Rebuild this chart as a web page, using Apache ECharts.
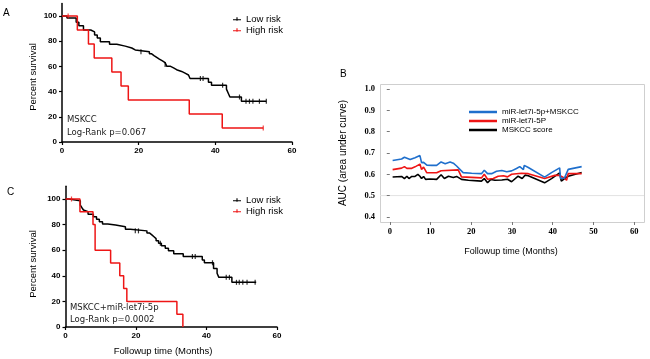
<!DOCTYPE html>
<html><head><meta charset="utf-8">
<script src="https://cdn.jsdelivr.net/npm/echarts@6/dist/echarts.min.js"></script>
<style>html,body{margin:0;padding:0;background:#fff}
.ch{position:absolute;left:0;top:0;width:650px;height:359px}</style>
</head><body><div id="km" class="ch"></div><div id="auc" class="ch"></div>
<script>
// ---------- tick labels ----------
const kmYTicks = [0, 20, 40, 60, 80, 100];
const kmXTicks = [0, 20, 40, 60];
const bYTicks = [0.4, 0.5, 0.6, 0.7, 0.8, 0.9, 1.0];
const bXTicks = [0, 10, 20, 30, 40, 50, 60];
const bRefLine = 0.5;

// ---------- Panel A (MSKCC) ----------
const aLowT = [0,1.3,3.7,4.4,5.6,7.5,8.5,9.2,10,12.4,14.3,16.5,18.2,19.1,22.8,23.4,24,24.7,25.4,26.2,26.9,27.3,28.2,29.1,29.9,31.2,32.1,33,33.4,38.2,39,42.9,43.4,43.8,46.8,53.3];
const aLowS = [100,98.4,95,92.3,88.9,87.4,85,82.5,79.5,77.6,76.1,74.6,73.1,71.6,70,68.6,67.2,65.8,64.4,63,61.6,60.2,58.8,57.4,56,54.6,53.2,51.8,50.4,47.5,45,42,38.5,35.7,32.3,32.3];
const aLowCensT = [20.6,26.9,36.1,36.8,41.9,46.3,48,48.9,49.8,51.5,53.3];
const aLowCensS = [71.6,61.6,50.4,50.4,45,35.7,32.3,32.3,32.3,32.3,32.3];
const aHighT = [0,4.0,6.9,8.4,13.0,15.4,17.3,33.2,41.8,52.5];
const aHighS = [100,88.9,77.8,66.7,55.6,44.4,33.3,22.2,11.1,11.1];
const aHighCensT = [1.6,52.5];
const aHighCensS = [100,11.1];

// ---------- Panel C (MSKCC+miR-let7i-5p) ----------
const cLowT = [0,0.9,4.2,4.7,5.1,5.6,6.4,7.9,8.8,9.6,10.5,12,14.2,17,18.4,23.1,23.8,24.5,25.1,25.7,26.4,27.2,28.3,29.2,30.7,33.4,38.8,39.4,42,43,43.5,47.2,54.1];
const cLowS = [100,98.7,95.3,93,91.4,90.1,88,86.2,84.1,82.3,80.5,79.6,78.3,76.4,75.1,73.5,72,70.5,69,67.4,65.5,63.5,61.5,59.6,57.2,55,52.3,50.2,45.8,42,38.8,34.9,34.9];
const cLowCensT = [19.8,20.7,26.9,36,36.8,41.7,45.6,46.5,48.5,49.3,50.3,51.5,53.8];
const cLowCensS = [75.1,75.1,65.5,55,55,50.2,38.8,38.8,34.9,34.9,34.9,34.9,34.9];
const cHighT = [0,4.1,7.8,8.4,12.8,15.4,16.5,17.4,31.6,33.3];
const cHighS = [100,90,80,60,50,40,30,20,10,0];
const cHighCensT = [1.7];
const cHighCensS = [100];

// ---------- Panel B (time-dependent AUC) ----------
const bNames = ['miR-let7i-5p+MSKCC', 'miR-let7i-5P', 'MSKCC score'];
const blueT = [0.7,2.9,3.6,3.9,5,6.2,7.4,7.8,8.3,9.1,10.3,11.5,12.6,13.6,14.8,15.6,16.4,18,20.1,22.5,23.2,24,25,26.2,27.5,28.7,29.9,31.1,31.9,32.8,33,34,38,39.7,41.7,41.9,42.9,43.8,47.1];
const blueV = [0.665,0.672,0.68,0.671,0.669,0.678,0.688,0.655,0.656,0.643,0.642,0.642,0.658,0.65,0.658,0.652,0.639,0.608,0.605,0.603,0.619,0.603,0.603,0.614,0.618,0.612,0.616,0.627,0.636,0.622,0.642,0.632,0.587,0.608,0.63,0.58,0.583,0.623,0.636];
const redT = [0.7,2.9,3.6,4.2,5.4,6.2,7.4,7.8,8.3,9.1,11.5,12.6,16.8,17.6,22.5,23.2,24,25.4,26.6,27.9,28.9,29.9,32.3,34,38,40.5,41.7,42.6,43.4,43.8,47.1];
const redV = [0.622,0.629,0.636,0.628,0.628,0.635,0.648,0.622,0.634,0.607,0.607,0.617,0.621,0.588,0.583,0.6,0.577,0.58,0.591,0.593,0.588,0.6,0.605,0.603,0.58,0.595,0.595,0.585,0.572,0.604,0.603];
const blackT = [0.7,2.9,3.6,4.2,4.7,5.4,6.2,6.9,7.4,7.8,8.3,8.8,9.9,11.5,12.6,13.4,14.4,15.6,16.4,17.6,19.3,22.5,23.2,24,24.8,25.8,27.5,28.9,29.9,31.5,32.5,33.2,34,38,39.7,41.7,42.1,42.9,43.8,47.1];
const blackV = [0.587,0.59,0.58,0.591,0.58,0.59,0.59,0.6,0.591,0.58,0.59,0.576,0.578,0.576,0.598,0.58,0.591,0.585,0.59,0.576,0.572,0.568,0.58,0.56,0.576,0.572,0.573,0.577,0.565,0.591,0.58,0.596,0.593,0.56,0.58,0.607,0.568,0.58,0.591,0.608];

const zip = (a, b) => a.map((v, i) => [v, b[i]]);
const RED = '#ee1515', BLK = '#000', BLUE = '#1f6fcc';
const bColors = [BLUE, RED, BLK];

// ================= Chart 2 (top layer): time-dependent AUC panel B =================
const bBox = {left: 380, top: 84, width: 264, height: 138};
const bPadY = 5.1;   // frame extends 4% beyond 0.4..1.0
const bLine = (name, t, v, color) => ({type: 'line', name, data: zip(t, v), showSymbol: false,
  lineStyle: {color, width: 1.6}, itemStyle: {color}, silent: true});
const aucOption = {
  animation: false,
  grid: {left: bBox.left, top: bBox.top + bPadY, width: bBox.width, height: bBox.height - 2 * bPadY},
  xAxis: {type: 'value', min: -2.4, max: 62.4, offset: bPadY,
    axisLine: {show: false}, splitLine: {show: false},
    axisTick: {show: true, length: 3, customValues: bXTicks, lineStyle: {color: '#777'}},
    axisLabel: {margin: 5, fontSize: 8.5, fontWeight: 'bold', color: '#000', fontFamily: 'Liberation Serif, Times New Roman', customValues: bXTicks}},
  yAxis: {type: 'value', min: 0.4, max: 1.0, interval: 0.1,
    axisLine: {show: false}, splitLine: {show: false},
    axisTick: {show: true, length: 3, lineStyle: {color: '#777'}},
    axisLabel: {margin: 5, fontSize: 8.5, fontWeight: 'bold', color: '#000', fontFamily: 'Liberation Serif, Times New Roman',
      hideOverlap: false, formatter: v => v.toFixed(1)}},
  series: [
    bLine(bNames[2], blackT, blackV, BLK),
    bLine(bNames[1], redT, redV, RED),
    bLine(bNames[0], blueT, blueV, BLUE)
  ]
};
const aucChart = echarts.init(document.getElementById('auc'), null, {renderer: 'canvas'});
aucChart.setOption(aucOption);
// pixel row of the 0.5 reference line and x-extent of the frame, via the chart's own scales
const refY = aucChart.convertToPixel({xAxisIndex: 0, yAxisIndex: 0}, [0, bRefLine])[1];

// ================= Chart 1 (bottom layer): Kaplan-Meier panels A and C + panel B decorations =================
const kmX = (gi) => ({
  gridIndex: gi, type: 'value', min: 0, max: 60, interval: 20,
  axisLine: {show: true, onZero: false, lineStyle: {color: '#000', width: 1.5}},
  axisTick: {show: true, length: 3, lineStyle: {color: '#000', width: 1.2}},
  axisLabel: {margin: 5, fontSize: 8, fontWeight: 'bold', color: '#000', fontFamily: 'Liberation Sans, Arial'},
  splitLine: {show: false}
});
const kmY = (gi) => ({
  gridIndex: gi, type: 'value', min: 0, max: 110,
  axisLine: {show: true, onZero: false, lineStyle: {color: '#000', width: 1.5}},
  axisTick: {show: true, length: 3, customValues: kmYTicks, lineStyle: {color: '#000', width: 1.2}},
  axisLabel: {margin: 5, fontSize: 8, fontWeight: 'bold', color: '#000', customValues: kmYTicks, fontFamily: 'Liberation Sans, Arial'},
  splitLine: {show: false}
});
const kmLine = (name, t, s, color, xi) => ({
  type: 'line', name, xAxisIndex: xi, yAxisIndex: xi, step: 'end', data: zip(t, s),
  showSymbol: false, lineStyle: {color, width: 1.5}, itemStyle: {color}, silent: true, z: 3
});
const kmCens = (name, t, s, color, xi) => ({
  type: 'scatter', name, xAxisIndex: xi, yAxisIndex: xi, data: zip(t, s),
  symbol: 'rect', symbolSize: [1.2, 5], itemStyle: {color}, silent: true, z: 4
});
const kmIcon = 'path://M0,3h10v1.4h-10z M4.3,0.6h1.4v4.4h-1.4z';
const txt = (x, y, text, size, extra) => ({
  type: 'text', x, y, style: Object.assign({text, fontSize: size, fill: '#000', fontFamily: 'Liberation Sans, Arial', textVerticalAlign: 'middle'}, extra || {})
});
const kmLegend = (top) => ({
  left: 228, top, orient: 'vertical', itemWidth: 8, itemHeight: 5, itemGap: 0, selectedMode: false,
  data: [{name: 'Low risk', icon: kmIcon}, {name: 'High risk', icon: kmIcon}],
  textStyle: {fontSize: 9.5, lineHeight: 11, color: '#000', fontFamily: 'Liberation Sans, Arial'}
});

const bLegend = {x: 469, y: 112, row: 9, len: 28};
const bDecor = [
  {type: 'rect', shape: {x: bBox.left + 0.5, y: bBox.top + 0.5, width: bBox.width, height: bBox.height},
    style: {fill: 'none', stroke: '#cfcfcf', lineWidth: 1}, silent: true},
  {type: 'line', shape: {x1: bBox.left, y1: refY, x2: bBox.left + bBox.width, y2: refY},
    style: {stroke: '#e2e2e2', lineWidth: 1}, silent: true},
  txt(340, 74, 'B', 10),
  txt(511, 252, 'Followup time (Months)', 9, {textAlign: 'center'}),
  Object.assign(txt(343, 153, 'AUC (area under curve)', 10, {textAlign: 'center'}), {rotation: Math.PI / 2})
];
bNames.forEach((n, i) => {
  const y = bLegend.y + i * bLegend.row;
  bDecor.push({type: 'line', shape: {x1: bLegend.x, y1: y, x2: bLegend.x + bLegend.len, y2: y},
    style: {stroke: bColors[i], lineWidth: 2.5}, silent: true});
  bDecor.push(txt(bLegend.x + bLegend.len + 5, y, n, 8));
});

const kmOption = {
  animation: false,
  grid: [
    {left: 62, top: 3.4, width: 230, height: 138.6},
    {left: 65.5, top: 186.2, width: 211.5, height: 140.8}
  ],
  xAxis: [kmX(0), kmX(1)],
  yAxis: [kmY(0), kmY(1)],
  legend: [kmLegend(8.5), kmLegend(189.5)],
  series: [
    kmLine('Low risk', aLowT, aLowS, BLK, 0),
    kmLine('High risk', aHighT, aHighS, RED, 0),
    kmCens('A low censored', aLowCensT, aLowCensS, BLK, 0),
    kmCens('A high censored', aHighCensT, aHighCensS, RED, 0),
    kmLine('Low risk', cLowT, cLowS, BLK, 1),
    kmLine('High risk', cHighT, cHighS, RED, 1),
    kmCens('C low censored', cLowCensT, cLowCensS, BLK, 1),
    kmCens('C high censored', cHighCensT, cHighCensS, RED, 1)
  ],
  graphic: [
    txt(3, 13, 'A', 10),
    txt(7, 192, 'C', 10),
    Object.assign(txt(33, 77, 'Percent survival', 9.5, {textAlign: 'center'}), {rotation: Math.PI / 2}),
    Object.assign(txt(33, 264, 'Percent survival', 9.5, {textAlign: 'center'}), {rotation: Math.PI / 2}),
    txt(163, 351, 'Followup time (Months)', 9.5, {textAlign: 'center'}),
    txt(67, 120, 'MSKCC', 8.5, {fontFamily: 'DejaVu Sans', fill: '#222'}),
    txt(67, 133, 'Log-Rank p=0.067', 8.5, {fontFamily: 'DejaVu Sans', fill: '#222'}),
    txt(70, 308, 'MSKCC+miR-let7i-5p', 8.5, {fontFamily: 'DejaVu Sans', fill: '#222'}),
    txt(70, 320, 'Log-Rank p=0.0002', 8.5, {fontFamily: 'DejaVu Sans', fill: '#222'})
  ].concat(bDecor)
};
echarts.init(document.getElementById('km'), null, {renderer: 'canvas'}).setOption(kmOption);
</script></body></html>
